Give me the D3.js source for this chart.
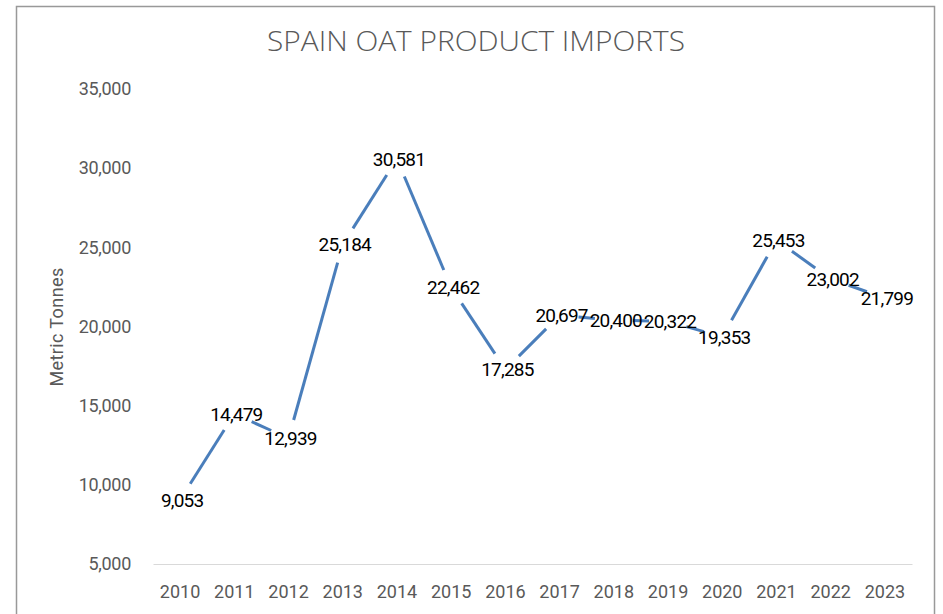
<!DOCTYPE html>
<html>
<head>
<meta charset="utf-8">
<script src="https://cdn.jsdelivr.net/npm/d3@7"></script>
<style>
  body { margin: 0; background: #fff; }
  svg { display: block; }
</style>
</head>
<body>
<svg id="chart" width="943" height="614"></svg>
<script>
const years = ['2010', '2011', '2012', '2013', '2014', '2015', '2016', '2017', '2018', '2019', '2020', '2021', '2022', '2023']
const imports = [9053, 14479, 12939, 25184, 30581, 22462, 17285, 20697, 20400, 20322, 19353, 25453, 23002, 21799]
const yTicks = [5000, 10000, 15000, 20000, 25000, 30000, 35000]

const svg = d3.select('#chart')
const fmt = d3.format(',')

// chart frame (bottom edge falls off the picture)
svg.append('rect')
  .attr('x', 16.5).attr('y', 6.5)
  .attr('width', 918).attr('height', 640)
  .attr('fill', '#fff')
  .attr('stroke', '#999').attr('stroke-width', 1.5)

const x = d3.scaleBand().domain(years).range([153, 912])
const y = d3.scaleLinear().domain([5000, 35000]).range([564, 89])
const cx = d => x(d) + x.bandwidth() / 2

svg.append('text')
  .attr('x', 476).attr('y', 51)
  .attr('text-anchor', 'middle')
  .attr('font-family', 'Open Sans').attr('font-weight', 300)
  .attr('font-size', 27).attr('fill', '#595959')
  .attr('textLength', 418).attr('lengthAdjust', 'spacingAndGlyphs')
  .text('SPAIN OAT PRODUCT IMPORTS')

// y axis labels, no line or grid
const yAxis = svg.append('g')
  .attr('transform', 'translate(153,0)')
  .call(d3.axisLeft(y).tickValues(yTicks).tickFormat(fmt).tickSize(0).tickPadding(22))
yAxis.select('.domain').remove()
yAxis.selectAll('text')
  .attr('font-family', 'Roboto').attr('font-size', 18).attr('letter-spacing', '-0.3px')
  .attr('fill', '#595959')

// x axis with light baseline
const xAxis = svg.append('g')
  .attr('transform', 'translate(0,564)')
  .call(d3.axisBottom(x).tickSize(0).tickPadding(21))
xAxis.select('.domain').attr('stroke', '#d9d9d9').attr('stroke-width', 1.2)
xAxis.selectAll('text')
  .attr('font-family', 'Roboto').attr('font-size', 18).attr('fill', '#595959')

svg.append('text')
  .attr('transform', 'translate(63,327) rotate(-90)')
  .attr('text-anchor', 'middle')
  .attr('font-family', 'Roboto').attr('font-size', 18).attr('letter-spacing', '0.4px')
  .attr('fill', '#595959')
  .text('Metric Tonnes')

// line segments, trimmed around each point so the labels sit in the gaps
const pts = years.map((yr, i) => [cx(yr), y(imports[i])])
const gap = 19
const segs = d3.pairs(pts).map(([a, b]) => {
  const dx = b[0] - a[0], dy = b[1] - a[1]
  const len = Math.hypot(dx, dy)
  const ux = dx / len, uy = dy / len
  return [[a[0] + ux * gap, a[1] + uy * gap], [b[0] - ux * gap, b[1] - uy * gap]]
})

svg.append('g').selectAll('line')
  .data(segs)
  .enter().append('line')
  .attr('x1', d => d[0][0]).attr('y1', d => d[0][1])
  .attr('x2', d => d[1][0]).attr('y2', d => d[1][1])
  .attr('stroke', '#4a7ebb').attr('stroke-width', 3)

svg.append('g').selectAll('text')
  .data(imports)
  .enter().append('text')
  .attr('x', (d, i) => cx(years[i]) + 2)
  .attr('y', d => y(d))
  .attr('dy', '0.36em')
  .attr('text-anchor', 'middle')
  .attr('font-family', 'Roboto').attr('font-size', 19).attr('letter-spacing', '-0.8px')
  .attr('fill', '#000')
  .text(d => fmt(d))
</script>
</body>
</html>
